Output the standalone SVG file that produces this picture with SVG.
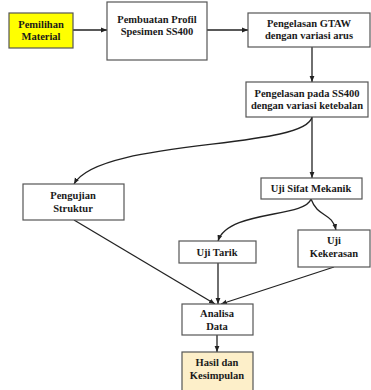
<svg xmlns="http://www.w3.org/2000/svg" width="371" height="390" viewBox="0 0 371 390">
<style>
.box{fill:#fff;stroke:#555;stroke-width:1.2}
.t{font-family:"Liberation Serif",serif;font-weight:bold;font-size:10.5px;fill:#1a1a1a;text-anchor:middle}
.c{fill:none;stroke:#222;stroke-width:1.3}
</style>
<defs>
<marker id="a" viewBox="0 0 10 10" refX="10" refY="5" markerWidth="6" markerHeight="6" markerUnits="userSpaceOnUse" orient="auto">
<path d="M0,1 L10,5 L0,9 Z" fill="#222"/>
</marker>
</defs>
<rect width="371" height="390" fill="#fff"/>
<g id="connectors">
<path class="c" d="M73,30 L107,30" marker-end="url(#a)"/>
<path class="c" d="M207,30 L248,30" marker-end="url(#a)"/>
<path class="c" d="M312,47 L312,82" marker-end="url(#a)"/>
<path class="c" d="M312,117 L312,178" marker-end="url(#a)"/>
<path class="c" d="M312,117 C305,150 100,138 74,184" marker-end="url(#a)"/>
<path class="c" d="M311,199 C305,218 228,210 218,241" marker-end="url(#a)"/>
<path class="c" d="M311,199 C318,218 332,212 336,230" marker-end="url(#a)"/>
<path class="c" d="M74,220 L215,304" marker-end="url(#a)"/>
<path class="c" d="M218,263 L218,304" marker-end="url(#a)"/>
<path class="c" d="M334,267 L221,304" marker-end="url(#a)"/>
<path class="c" d="M217,335 L217,352" marker-end="url(#a)"/>
</g>
<g id="pemilihan">
<rect x="9" y="13" width="64" height="35" fill="#ffff00" stroke="#555" stroke-width="1.2"/>
<text class="t" x="41" y="28">Pemilihan</text>
<text class="t" x="41" y="40">Material</text>
</g>
<g id="pembuatan">
<rect class="box" x="107" y="2" width="100" height="58"/>
<text class="t" x="157" y="23">Pembuatan Profil</text>
<text class="t" x="157" y="35">Spesimen SS400</text>
</g>
<g id="gtaw">
<rect class="box" x="248" y="13" width="122" height="34"/>
<text class="t" x="309" y="27">Pengelasan GTAW</text>
<text class="t" x="309" y="39">dengan variasi arus</text>
</g>
<g id="pengelasan-ss400">
<rect class="box" x="246" y="82" width="122" height="35"/>
<text class="t" x="307" y="97">Pengelasan pada SS400</text>
<text class="t" x="307" y="109">dengan variasi ketebalan</text>
</g>
<g id="struktur">
<rect class="box" x="23" y="184" width="101" height="36"/>
<text class="t" x="73" y="199">Pengujian</text>
<text class="t" x="73" y="212">Struktur</text>
</g>
<g id="mekanik">
<rect class="box" x="261" y="178" width="101" height="21"/>
<text class="t" x="311" y="192">Uji Sifat Mekanik</text>
</g>
<g id="tarik">
<rect class="box" x="179" y="241" width="77" height="22"/>
<text class="t" x="217" y="256">Uji Tarik</text>
</g>
<g id="kekerasan">
<rect class="box" x="298" y="230" width="72" height="37"/>
<text class="t" x="334" y="244">Uji</text>
<text class="t" x="334" y="257">Kekerasan</text>
</g>
<g id="analisa">
<rect class="box" x="182" y="304" width="71" height="31"/>
<text class="t" x="217" y="317">Analisa</text>
<text class="t" x="217" y="330">Data</text>
</g>
<g id="hasil">
<rect x="182" y="352" width="71" height="40" fill="#fdefc9" stroke="#555" stroke-width="1.2"/>
<text class="t" x="217" y="366">Hasil dan</text>
<text class="t" x="217" y="379">Kesimpulan</text>
</g>
</svg>
